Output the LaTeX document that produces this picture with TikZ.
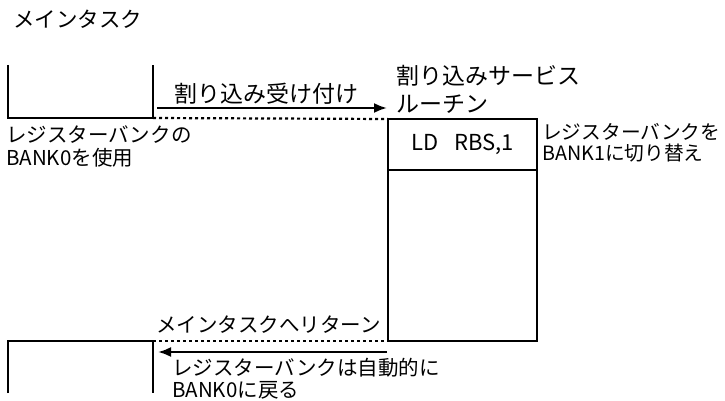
\documentclass[tikz,border=0pt]{standalone}
\usepackage{fontspec}
\setmainfont{Noto Sans CJK JP}
\usepackage{tikz}
\usetikzlibrary{arrows.meta, positioning}

\begin{document}
\begin{tikzpicture}
  [
    x=1pt, y=-1pt,
    >={Latex[length=13pt, width=10pt]},
    Wall/.style={draw=black, line width=2.2pt},
    Dots/.style={draw=black, line width=2.2pt, dash pattern=on 3pt off 3pt},
    Flow/.style={->, draw=black, line width=2.2pt},
    Txt/.style={inner sep=0pt, align=left, font=\fontsize{20.5}{23}\selectfont},
    Big/.style={inner sep=0pt, align=left, font=\fontsize{23}{28}\selectfont}
  ]
  \useasboundingbox (0,0) rectangle (725,401);
  % Nodes
  \node[Txt, anchor=west, font=\fontsize{21.5}{23}\selectfont] (title) at (13, 19) {メインタスク};
  \coordinate (m1) at (8, 65);
  \coordinate (m2) at (8, 118);
  \coordinate (m3) at (153, 118);
  \coordinate (m4) at (153, 65);
  \node[Wall, minimum width=149pt, minimum height=51pt, inner sep=0pt, outer sep=0pt,
    font=\fontsize{22}{24}\selectfont] (ld) at (462.5, 144.5) {LD\hspace{16pt}RBS,1};
  \node[Wall, minimum width=149pt, minimum height=171pt, inner sep=0pt, outer sep=0pt,
    anchor=north] (isr) at (ld.south) {};
  \node[Big, anchor=north west] (isrname) at (396, 65) {割り込みサービス\\ルーチン};
  \node[Txt, anchor=north west, font=\fontsize{19.7}{21.5}\selectfont] (bank1) at (542, 123) {レジスターバンクを\\BANK1に切り替え};
  \node[Txt, anchor=north west] (bank0) at (6, 126) {レジスターバンクの\\BANK0を使用};
  \coordinate (r1) at (8, 341);
  \coordinate (r2) at (8, 393);
  \coordinate (r3) at (153, 393);
  \coordinate (r4) at (153, 341);
  \node[Txt, anchor=north west, font=\fontsize{20.5}{22}\selectfont] (back) at (172, 358) {レジスターバンクは自動的に\\BANK0に戻る};
  \coordinate (in0) at (157, 108);
  \coordinate (in1) at (387, 108);
  \coordinate (out0) at (387, 352);
  \coordinate (out1) at (158, 352);
  % Lines
  \path [Wall] (m1) -- (m2) -- (m3) -- (m4);
  \path [Wall] (r2) -- (r1) -- (r4) -- (r3);
  \path [Dots] (m3) -- (ld.north west);
  \path [Dots] (r4) -- (isr.south west);
  \path [Flow] (in0) -- node[Big, above=3pt, xshift=-6pt] (accept) {割り込み受け付け} (in1);
  \path [Flow] (out0) -- node[Txt, above=18pt, xshift=-4pt] (ret) {メインタスクへリターン} (out1);
\end{tikzpicture}
\end{document}
